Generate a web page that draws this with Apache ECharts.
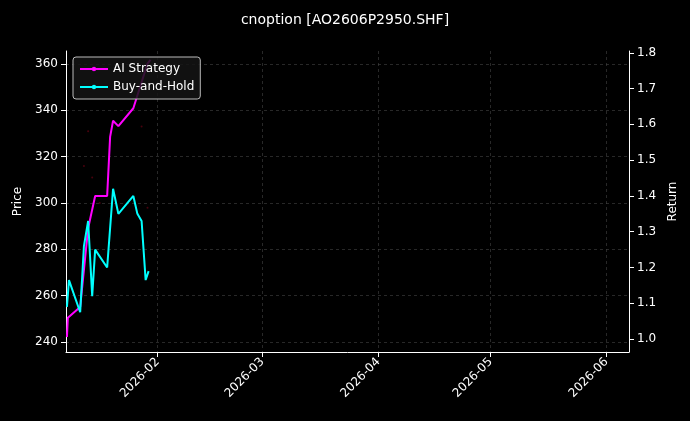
<!DOCTYPE html>
<html><head><meta charset="utf-8">
<script src="https://cdn.jsdelivr.net/npm/echarts@6/dist/echarts.min.js"></script>
<style>html,body{margin:0;background:#000}#c{width:690px;height:421px}</style>
</head><body><div id="c"></div>
<script>
const aiDates = ['2026-01-07 18:00','2026-01-08 00:00','2026-01-11 07:00','2026-01-13 10:00','2026-01-15 07:00','2026-01-18 12:00','2026-01-19 07:00','2026-01-20 02:00','2026-01-21 12:00','2026-01-25 12:00','2026-01-29 07:00','2026-01-30 02:00'];
const aiValues = [1.006,1.06,1.09,1.31,1.40,1.40,1.565,1.61,1.595,1.645,1.77,1.78];
const bhDates = ['2026-01-07 18:00','2026-01-08 07:00','2026-01-11 07:00','2026-01-12 07:00','2026-01-13 10:00','2026-01-14 12:00','2026-01-15 07:00','2026-01-18 12:00','2026-01-20 02:00','2026-01-21 12:00','2026-01-25 12:00','2026-01-26 14:00','2026-01-27 17:00','2026-01-28 19:00','2026-01-29 14:00'];
const bhValues = [1.09,1.165,1.075,1.26,1.33,1.12,1.25,1.20,1.42,1.35,1.40,1.35,1.33,1.165,1.19];
const priceDates = ['2026-01-12 07:00','2026-01-13 10:00','2026-01-14 12:00','2026-01-16 12:00','2026-01-27 17:00','2026-01-29 07:00'];
const priceValues = [316,331,311,300,333,298];
const priceTicks = [240,260,280,300,320,340,360];
const returnTicks = [1.0,1.1,1.2,1.3,1.4,1.5,1.6,1.7,1.8];
const monthTicks = ['2026-02-01','2026-03-01','2026-04-01','2026-05-01','2026-06-01'];

const ts = s => +new Date(s.replace(' ', 'T') + (s.length > 10 ? ':00' : 'T00:00:00'));
const pair = (d, v) => d.map((x, i) => [ts(x), v[i]]);
const monthTs = monthTicks.map(ts);
const ax = '#ffffff';
const grid = {show:true,lineStyle:{color:'#444',type:[3,3],width:0.6}};
const chart = echarts.init(document.getElementById('c'));
chart.setOption({
  backgroundColor:'#000',
  animation:false,
  title:{text:'cnoption [AO2606P2950.SHF]',left:'center',top:8,textStyle:{color:'#fff',fontSize:14,fontWeight:'normal',fontFamily:'DejaVu Sans'}},
  grid:{left:66,right:61,top:51,bottom:69},
  legend:{left:73,top:57,orient:'vertical',itemGap:6,itemWidth:28,itemHeight:3,padding:[6,6,6,6],
    backgroundColor:'rgba(20,20,20,0.85)',borderColor:'#bbb',borderWidth:1,borderRadius:3,
    textStyle:{color:'#fff',fontSize:12,fontFamily:'DejaVu Sans'},data:['AI Strategy','Buy-and-Hold']},
  xAxis:{type:'value',min:ts('2026-01-07 12:00'),max:ts('2026-06-07 00:00'),
    axisLine:{lineStyle:{color:ax}},axisTick:{show:true,customValues:monthTs,lineStyle:{color:ax}},
    axisLabel:{customValues:monthTs,rotate:45,color:'#fff',fontSize:12,fontFamily:'DejaVu Sans',
      formatter:v=>{const d=new Date(v);return d.getFullYear()+'-'+String(d.getMonth()+1).padStart(2,'0');}},
    splitLine:grid},
  yAxis:[
    {type:'value',min:235.7,max:365.6,name:'Price',nameLocation:'middle',nameGap:42,nameTextStyle:{color:'#fff',fontSize:12,fontFamily:'DejaVu Sans'},
     axisLine:{show:true,lineStyle:{color:ax}},axisTick:{show:true,customValues:priceTicks,lineStyle:{color:ax}},
     axisLabel:{customValues:priceTicks,color:'#fff',fontSize:12,fontFamily:'DejaVu Sans'},splitLine:grid},
    {type:'value',min:0.964,max:1.805,name:'Return',nameLocation:'middle',nameGap:36,nameTextStyle:{color:'#fff',fontSize:12,fontFamily:'DejaVu Sans'},
     axisLine:{show:true,lineStyle:{color:ax}},axisTick:{show:true,customValues:returnTicks,lineStyle:{color:ax}},
     axisLabel:{customValues:returnTicks,color:'#fff',fontSize:12,fontFamily:'DejaVu Sans',formatter:v=>v.toFixed(1)},splitLine:{show:false}}
  ],
  series:[
    {name:'Price',type:'scatter',yAxisIndex:0,symbolSize:2,itemStyle:{color:'#5a0010'},data:pair(priceDates,priceValues)},
    {name:'AI Strategy',type:'line',yAxisIndex:1,showSymbol:false,lineStyle:{color:'#ff00ff',width:2},itemStyle:{color:'#ff00ff'},data:pair(aiDates,aiValues)},
    {name:'Buy-and-Hold',type:'line',yAxisIndex:1,showSymbol:false,lineStyle:{color:'#00ffff',width:2},itemStyle:{color:'#00ffff'},data:pair(bhDates,bhValues)}
  ]
});
</script></body></html>
